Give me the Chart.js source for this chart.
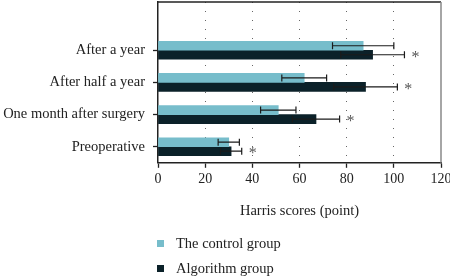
<!DOCTYPE html>
<html>
<head>
<meta charset="utf-8">
<script src="https://cdn.jsdelivr.net/npm/chart.js@4.4.1/dist/chart.umd.min.js"></script>
<style>
  html, body { margin: 0; padding: 0; background: #fff; }
  #wrap { position: relative; width: 450px; height: 277px; }
  #legend { position: absolute; left: 157px; top: 231px; font: 14.5px "Liberation Serif", serif; color: #222; }
  #legend .item { display: flex; align-items: center; height: 25px; }
  #legend .box { width: 7px; height: 7px; margin-right: 12px; }
</style>
</head>
<body>
<div id="wrap">
  <canvas id="harris-chart" width="450" height="277"></canvas>
  <div id="legend"></div>
</div>
<script>
// first slot is left empty on purpose, the reference keeps a blank row on top
const categories = ['', 'After a year', 'After half a year', 'One month after surgery', 'Preoperative'];
const seriesNames = ['The control group', 'Algorithm group'];
const controlMeans = [null, 87, 62, 51, 30];
const controlErrors = [null, 13, 9.5, 7.5, 4.5];
const algorithmMeans = [null, 91, 88, 67, 31];
const algorithmErrors = [null, 13.5, 13.5, 10, 4.5];
const algorithmStars = [false, true, true, true, true];
const xTicks = [0, 20, 40, 60, 80, 100, 120];

const FONT = '"Liberation Serif", serif';

// error bars + significance stars, drawn through the x scale
const errorBars = {
  id: 'errorBars',
  afterDatasetsDraw(chart) {
    const ctx = chart.ctx;
    const x = chart.scales.x;
    ctx.save();
    chart.data.datasets.forEach((ds, i) => {
      const meta = chart.getDatasetMeta(i);
      meta.data.forEach((bar, j) => {
        const m = ds.data[j];
        if (m == null) return;
        const e = ds.errors[j];
        const x0 = x.getPixelForValue(m - e);
        const x1 = x.getPixelForValue(m + e);
        const y = bar.y;
        ctx.strokeStyle = '#1b1b1b';
        ctx.lineWidth = 1.2;
        ctx.beginPath();
        ctx.moveTo(x0, y); ctx.lineTo(x1, y);
        ctx.moveTo(x0, y - 3.5); ctx.lineTo(x0, y + 3.5);
        ctx.moveTo(x1, y - 3.5); ctx.lineTo(x1, y + 3.5);
        ctx.stroke();
        if (ds.stars && ds.stars[j]) {
          ctx.fillStyle = '#555';
          ctx.font = '16px ' + FONT;
          ctx.textAlign = 'left';
          ctx.textBaseline = 'middle';
          ctx.fillText('*', x1 + 7, y + 3);
        }
      });
    });
    ctx.restore();
  }
};

// top and right frame lines of the plot
const frame = {
  id: 'frame',
  afterDatasetsDraw(chart) {
    const {ctx, chartArea: a} = chart;
    ctx.save();
    ctx.lineWidth = 1.5;
    ctx.strokeStyle = '#222';
    ctx.beginPath();
    ctx.moveTo(a.left, a.top); ctx.lineTo(a.right, a.top);
    ctx.stroke();
    ctx.strokeStyle = '#888';
    ctx.beginPath();
    ctx.moveTo(a.right, a.top); ctx.lineTo(a.right, a.bottom);
    ctx.stroke();
    ctx.restore();
  }
};

const chart = new Chart(document.getElementById('harris-chart'), {
  type: 'bar',
  data: {
    labels: categories,
    datasets: [
      {
        label: seriesNames[0],
        data: controlMeans,
        errors: controlErrors,
        backgroundColor: '#77bdcb',
        barThickness: 9
      },
      {
        label: seriesNames[1],
        data: algorithmMeans,
        errors: algorithmErrors,
        stars: algorithmStars,
        backgroundColor: '#0b2129',
        barThickness: 9
      }
    ]
  },
  options: {
    indexAxis: 'y',
    responsive: false,
    animation: false,
    layout: { padding: { top: 2, right: 9, bottom: 57 } },
    plugins: {
      legend: { display: false },
      tooltip: { enabled: false }
    },
    scales: {
      x: {
        min: 0,
        max: 120,
        afterBuildTicks: (scale) => { scale.ticks = xTicks.map(v => ({value: v})); },
        afterFit: (scale) => { scale.paddingLeft = 0; scale.paddingRight = 0; },
        ticks: { color: '#222', font: { family: FONT, size: 14 }, padding: 3 },
        grid: {
          color: (c) => (c.tick && (c.tick.value === 0 || c.tick.value === 120)) ? 'rgba(0,0,0,0)' : '#666',
          lineWidth: 1,
          tickColor: '#222',
          tickLength: 5,
          tickWidth: 1.3
        },
        border: { color: '#222', width: 1.5, dash: [1, 8] },
        title: {
          display: true,
          text: 'Harris scores (point)',
          color: '#222',
          font: { family: FONT, size: 14.5 },
          padding: { top: 12, bottom: 0 }
        }
      },
      y: {
        afterFit: (scale) => { scale.width = 158; scale.paddingTop = 0; scale.paddingBottom = 0; },
        ticks: { color: '#222', font: { family: FONT, size: 14.5 }, padding: 8 },
        grid: {
          offset: false,
          drawOnChartArea: false,
          tickLength: 5,
          tickWidth: 1.3,
          tickColor: (c) => c.index === 0 ? 'rgba(0,0,0,0)' : '#222'
        },
        border: { color: '#222', width: 1.5 }
      }
    }
  },
  plugins: [frame, errorBars]
});

// legend as a vertical list, like the reference
const legendEl = document.getElementById('legend');
chart.data.datasets.forEach(ds => {
  const row = document.createElement('div');
  row.className = 'item';
  const box = document.createElement('span');
  box.className = 'box';
  box.style.background = ds.backgroundColor;
  const txt = document.createElement('span');
  txt.textContent = ds.label;
  row.appendChild(box);
  row.appendChild(txt);
  legendEl.appendChild(row);
});
</script>
</body>
</html>
